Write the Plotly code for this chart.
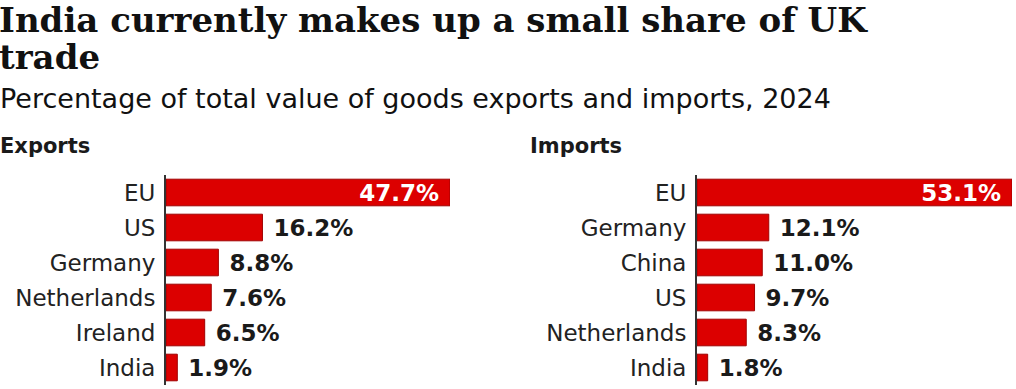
import plotly.graph_objects as go

export_cats = ["EU", "US", "Germany", "Netherlands", "Ireland", "India"]
export_vals = [47.7, 16.2, 8.8, 7.6, 6.5, 1.9]
import_cats = ["EU", "Germany", "China", "US", "Netherlands", "India"]
import_vals = [53.1, 12.1, 11.0, 9.7, 8.3, 1.8]

title_lines = ["India currently makes up a small share of UK", "trade"]
subtitle = "Percentage of total value of goods exports and imports, 2024"
panel_titles = ["Exports", "Imports"]

RED = "#dc0000"
DARK = "#1a1a1a"
SANS = "DejaVu Sans"
SERIF = "DejaVu Serif"

W, H = 1016, 389
NB = "\u00a0"

def positions(vals):
    return ["inside" if v == max(vals) else "outside" for v in vals]

fig = go.Figure()
for cats, vals, xa, ya in [(export_cats, export_vals, "x", "y"), (import_cats, import_vals, "x2", "y2")]:
    pos = positions(vals)
    fig.add_trace(go.Bar(
        y=cats, x=vals, orientation="h", xaxis=xa, yaxis=ya,
        marker=dict(color=RED, line=dict(color="#a00000", width=1)),
        width=0.76,
        texttemplate=["%{x:.1f}%" + NB if p == "inside" else NB + "%{x:.1f}%" for p in pos],
        textposition=pos,
        insidetextanchor="end",
        insidetextfont=dict(color="white", size=23, family=SANS, weight="bold"),
        outsidetextfont=dict(color=DARK, size=23, family=SANS, weight="bold"),
        textangle=0, constraintext="none", cliponaxis=False,
        showlegend=False, hoverinfo="skip",
    ))

ydom = [(H - 385) / H, (H - 175) / H]
axis_common = dict(showgrid=False, zeroline=False, showticklabels=False, ticks="")
yaxis_common = dict(domain=ydom, autorange="reversed", showline=True, linecolor="#333333", linewidth=2,
                    ticks="", ticklabelstandoff=4, tickfont=dict(size=23, family=SANS, color="#222222"),
                    fixedrange=True)
fig.update_layout(
    width=W, height=H, margin=dict(l=0, r=0, t=0, b=0),
    paper_bgcolor="white", plot_bgcolor="white",
    xaxis=dict(domain=[166 / W, 450 / W], range=[0, 47.7], fixedrange=True, **axis_common),
    xaxis2=dict(domain=[697 / W, 1012 / W], range=[0, 53.1], fixedrange=True, **axis_common),
    yaxis=dict(anchor="x", **yaxis_common),
    yaxis2=dict(anchor="x2", **yaxis_common),
)

for line, cy in zip(title_lines, [20, 57]):
    fig.add_annotation(text=line, x=0, y=(H - cy) / H, xref="paper", yref="paper", xanchor="left",
                       yanchor="middle", align="left", showarrow=False, xshift=-3,
                       font=dict(family=SERIF, size=34, color="#111111", weight="bold"))
fig.add_annotation(text=subtitle, x=0, y=(H - 99) / H, xref="paper", yref="paper", xanchor="left",
                   yanchor="middle", showarrow=False, xshift=-2,
                   font=dict(family=SANS, size=27, color="#111111"))
for name, px in zip(panel_titles, [0, 530]):
    fig.add_annotation(text=name, x=px / W, y=(H - 146) / H, xref="paper", yref="paper", xanchor="left",
                       yanchor="middle", showarrow=False, xshift=-2,
                       font=dict(family=SANS, size=21, color=DARK, weight="bold"))

fig.write_html("out.html", config={"displayModeBar": False},
               post_script="document.body.style.margin='0px';document.body.style.overflow='hidden';")
